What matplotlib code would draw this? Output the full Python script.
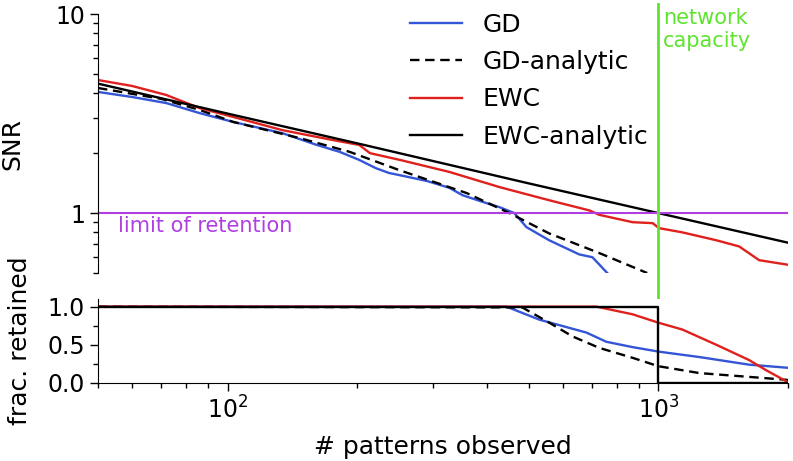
import numpy as np
import matplotlib
matplotlib.use("Agg")
import matplotlib.pyplot as plt
from matplotlib.ticker import FixedLocator, FixedFormatter, NullFormatter, LogLocator

# SNR panel
gd_x = [50, 60, 72, 86, 103, 134, 161, 182, 202, 221, 237, 251, 290, 327, 351, 390, 428, 463, 494, 558, 655, 703, 761]
gd_snr = [4.06, 3.83, 3.57, 3.18, 2.87, 2.52, 2.20, 2.03, 1.85, 1.68, 1.59, 1.55, 1.45, 1.34, 1.23, 1.14, 1.07, 1.00, 0.85, 0.73, 0.62, 0.60, 0.50]

gda_x = [50, 70, 86, 103, 147, 192, 251, 359, 451, 558, 729, 942]
gda_snr = [4.25, 3.75, 3.30, 2.87, 2.38, 2.03, 1.64, 1.26, 1.00, 0.79, 0.63, 0.50]

ewc_x = [50, 60, 72, 86, 103, 134, 175, 202, 214, 251, 327, 428, 558, 693, 729, 871, 970, 1004, 1137, 1364, 1540, 1714, 2000]
ewc_snr = [4.66, 4.35, 3.92, 3.37, 3.04, 2.61, 2.33, 2.20, 2.00, 1.85, 1.61, 1.35, 1.16, 1.03, 0.98, 0.90, 0.89, 0.84, 0.80, 0.73, 0.68, 0.58, 0.55]

ewca_x = [50, 100, 200, 500, 1000, 2000]
ewca_snr = [4.47, 3.16, 2.24, 1.41, 1.00, 0.71]

# fraction retained panel
gd_fx = [50, 444, 529, 681, 757, 871, 1004, 1245, 1625, 1991]
gd_frac = [1.0, 1.0, 0.83, 0.66, 0.54, 0.47, 0.41, 0.34, 0.24, 0.20]

gda_fx = [50, 483, 558, 632, 729, 871, 1000, 1245, 1625, 2000]
gda_frac = [1.0, 0.99, 0.79, 0.61, 0.46, 0.33, 0.22, 0.13, 0.08, 0.04]

ewc_fx = [50, 718, 871, 1000, 1137, 1364, 1625, 1776, 2000]
ewc_frac = [1.0, 1.0, 0.90, 0.79, 0.70, 0.50, 0.30, 0.17, 0.01]

ewca_fx = [50, 1000, 1000, 2000]
ewca_frac = [1.0, 1.0, 0.0, 0.0]

capacity = 1000
blue = "#3355d6"
red = "#e0201c"
green = "#5ee42e"
purple = "#b03fe2"

plt.rcParams["font.size"] = 17
plt.rcParams["axes.labelsize"] = 18
plt.rcParams["xtick.direction"] = "out"
plt.rcParams["ytick.direction"] = "out"

fig = plt.figure(figsize=(7.93, 4.61), dpi=100)
ax1 = fig.add_axes([0.1236, 0.4078, 0.8701, 0.5618])
ax2 = fig.add_axes([0.1236, 0.1692, 0.8701, 0.1822])

lw = 1.7
ax1.plot(gd_x, gd_snr, color=blue, lw=lw, label="GD")
ax1.plot(gda_x, gda_snr, color="black", lw=lw, ls=(0, (4, 2.4)), label="GD-analytic")
ax1.plot(ewc_x, ewc_snr, color=red, lw=lw, label="EWC")
ax1.plot(ewca_x, ewca_snr, color="black", lw=lw, label="EWC-analytic")
ax1.axhline(1, color=purple, lw=1.5)
ax1.axvline(capacity, ymin=-0.131, ymax=1.04, color=green, lw=2, clip_on=False)

ax1.set_xscale("log")
ax1.set_yscale("log")
ax1.set_xlim(50, 2000)
ax1.set_ylim(0.5, 10)
ax1.yaxis.set_major_locator(FixedLocator([1, 10]))
ax1.yaxis.set_major_formatter(FixedFormatter(["1", "10"]))
ax1.yaxis.set_minor_locator(LogLocator(base=10, subs=np.arange(2, 10)))
ax1.yaxis.set_minor_formatter(NullFormatter())
ax1.set_ylabel("SNR")
ax1.yaxis.set_label_coords(-0.107, 0.5)
for s in ["top", "right", "bottom"]:
    ax1.spines[s].set_visible(False)
ax1.tick_params(axis="x", which="both", bottom=False, labelbottom=False)
ax1.tick_params(axis="y", which="major", length=6, width=1)
ax1.tick_params(axis="y", which="minor", length=3.5, width=1)

ax1.text(55.6, 0.86, "limit of retention", color=purple, fontsize=15, va="center")
ax1.text(1027, 1.025, "network\ncapacity", color=green, fontsize=15, va="top",
         transform=ax1.get_xaxis_transform(), linespacing=1.2)

ax1.legend(loc="upper left", bbox_to_anchor=(0.517, 0.972), bbox_transform=fig.transFigure,
           frameon=False, borderpad=0, borderaxespad=0, handlelength=2.1,
           handletextpad=0.8, labelspacing=0.53, fontsize=18)

ax2.plot(gd_fx, gd_frac, color=blue, lw=lw)
ax2.plot(gda_fx, gda_frac, color="black", lw=lw, ls=(0, (4, 2.4)))
ax2.plot(ewc_fx, ewc_frac, color=red, lw=lw)
ax2.plot(ewca_fx, ewca_frac, color="black", lw=lw)

ax2.set_xscale("log")
ax2.set_xlim(50, 2000)
ax2.set_ylim(0, 1.1)
ax2.set_yticks([0, 0.5, 1.0])
ax2.set_yticklabels(["0.0", "0.5", "1.0"])
ax2.yaxis.set_minor_locator(FixedLocator([0.25, 0.75]))
ax2.set_ylabel("frac. retained")
ax2.yaxis.set_label_coords(-0.096, 0.5)
ax2.set_xlabel("# patterns observed", labelpad=8)
for s in ["top", "right"]:
    ax2.spines[s].set_visible(False)
ax2.tick_params(which="major", length=6, width=1)
ax2.tick_params(which="minor", length=3.5, width=1)

fig.savefig("out.png", dpi=100)
